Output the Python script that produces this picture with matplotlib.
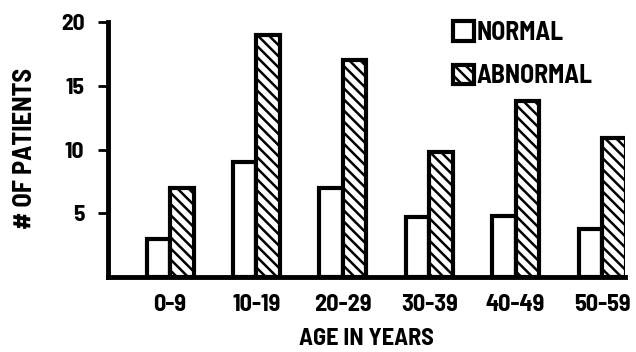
#!/usr/bin/env python3

import matplotlib
matplotlib.use('Agg')
import matplotlib.pyplot as plt
import numpy as np

AGES = ['0-9', '10-19', '20-29', '30-39', '40-49', '50-59']
NORMAL = [3, 9, 7, 4.7, 4.8, 3.8]
ABNORMAL = [7, 19, 17, 9.8, 13.8, 10.9]
YTICKS = [5, 10, 15, 20]

plt.rcParams['font.family'] = ['Barlow Semi Condensed', 'DejaVu Sans']
plt.rcParams['font.weight'] = 700
plt.rcParams['axes.labelweight'] = 700
plt.rcParams['hatch.linewidth'] = 1.8

fig = plt.figure(figsize=(6.36, 3.52), dpi=100)
ax = fig.add_axes([108 / 636, 1 - 277 / 352, 517 / 636, 255 / 352])

x = np.arange(len(AGES))
width = 0.272
ax.bar(x - width / 2, NORMAL, width, color='white', edgecolor='black',
       linewidth=3, label='NORMAL', zorder=2)
ax.bar(x + width / 2, ABNORMAL, width, color='white', edgecolor='black',
       linewidth=3, hatch='\\\\\\', label='ABNORMAL', zorder=2)

ax.set_xlim(-0.718, 5.266)
ax.set_ylim(0, 20)
ax.spines['top'].set_visible(False)
ax.spines['right'].set_visible(False)
ax.spines['left'].set_linewidth(3.5)
ax.spines['bottom'].set_linewidth(3.5)
ax.spines['bottom'].set_zorder(3)

ax.set_xticks(x)
ax.set_xticklabels(AGES)
ax.set_yticks(YTICKS)
ax.set_yticklabels([str(v) for v in YTICKS])
ax.tick_params(axis='x', length=0, pad=12, labelsize=17.5)
ax.tick_params(axis='y', length=7, width=2, pad=10, labelsize=17)

ax.set_xlabel('AGE IN YEARS', fontsize=17.5, va='center')
ax.xaxis.set_label_coords(0.5, -0.242)
ax.set_ylabel('# OF PATIENTS', fontsize=19, va='center')
ax.yaxis.set_label_coords(-0.16, 0.506)

ax.legend(loc='upper left', bbox_to_anchor=(453 / 636, 1 - 21 / 352),
          bbox_transform=fig.transFigure, frameon=False, fontsize=18.5,
          handlelength=0.8, handleheight=0.8, handletextpad=0.1,
          labelspacing=0.75, borderpad=0, borderaxespad=0)

plt.savefig('out.png', dpi=100)
